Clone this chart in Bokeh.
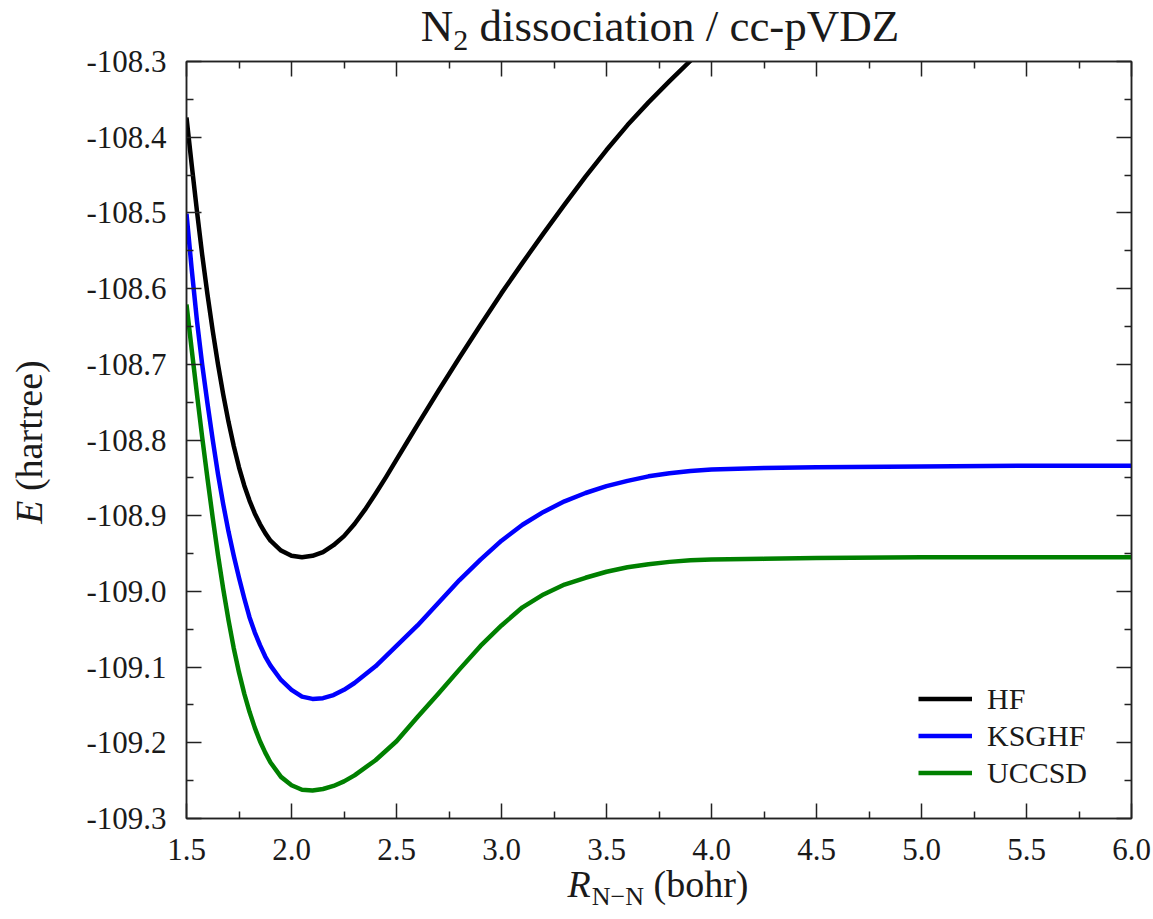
from bokeh.plotting import figure
from bokeh.models import Range1d, LinearAxis, FixedTicker, Legend, LegendItem, Div
from bokeh.layouts import column, row
from bokeh.embed import file_html
from bokeh.resources import INLINE

# ---------------- data ----------------
hf_r = [1.500, 1.525, 1.550, 1.575, 1.600, 1.625, 1.650, 1.675, 1.700, 1.725,
        1.750, 1.775, 1.800, 1.825, 1.850, 1.875, 1.900, 1.950, 2.000, 2.050,
        2.100, 2.150, 2.200, 2.250, 2.300, 2.350, 2.400, 2.450, 2.500, 2.550,
        2.600, 2.700, 2.800, 2.900, 3.000, 3.100, 3.200, 3.300, 3.400, 3.500,
        3.600, 3.700, 3.800, 3.900, 4.000]
hf_e = [-108.374, -108.437, -108.498, -108.556, -108.608, -108.656, -108.700,
        -108.740, -108.776, -108.808, -108.836, -108.860, -108.880, -108.897,
        -108.911, -108.923, -108.933, -108.946, -108.953, -108.955, -108.953,
        -108.948, -108.939, -108.927, -108.911, -108.892, -108.871, -108.849,
        -108.826, -108.803, -108.780, -108.735, -108.691, -108.648, -108.606,
        -108.566, -108.527, -108.489, -108.452, -108.417, -108.384, -108.354,
        -108.326, -108.299, -108.273]

ks_r = [1.500, 1.525, 1.550, 1.575, 1.600, 1.625, 1.650, 1.675, 1.700, 1.725,
        1.750, 1.775, 1.800, 1.825, 1.850, 1.875, 1.900, 1.950, 2.000, 2.050,
        2.100, 2.150, 2.200, 2.250, 2.300, 2.400, 2.500, 2.600, 2.700, 2.800,
        2.900, 3.000, 3.100, 3.200, 3.300, 3.400, 3.500, 3.600, 3.700, 3.800,
        3.900, 4.000, 4.250, 4.500, 5.000, 5.500, 6.000]
ks_e = [-108.501, -108.575, -108.643, -108.701, -108.752, -108.800, -108.845,
        -108.885, -108.921, -108.953, -108.982, -109.009, -109.034, -109.054,
        -109.071, -109.086, -109.098, -109.117, -109.130, -109.139, -109.142,
        -109.141, -109.137, -109.130, -109.121, -109.099, -109.072, -109.045,
        -109.015, -108.985, -108.958, -108.933, -108.912, -108.895, -108.881,
        -108.870, -108.861, -108.854, -108.848, -108.844, -108.841, -108.839,
        -108.837, -108.836, -108.835, -108.834, -108.834]

cc_r = [1.500, 1.525, 1.550, 1.575, 1.600, 1.625, 1.650, 1.675, 1.700, 1.725,
        1.750, 1.775, 1.800, 1.825, 1.850, 1.875, 1.900, 1.950, 2.000, 2.050,
        2.100, 2.150, 2.200, 2.250, 2.300, 2.400, 2.500, 2.600, 2.700, 2.800,
        2.900, 3.000, 3.100, 3.200, 3.300, 3.400, 3.500, 3.600, 3.700, 3.800,
        3.900, 4.000, 4.250, 4.500, 5.000, 5.500, 6.000]
cc_e = [-108.621, -108.681, -108.740, -108.797, -108.851, -108.903, -108.952,
        -108.997, -109.038, -109.075, -109.107, -109.135, -109.159, -109.180,
        -109.198, -109.213, -109.226, -109.245, -109.256, -109.262, -109.263,
        -109.261, -109.257, -109.251, -109.243, -109.223, -109.198, -109.166,
        -109.135, -109.103, -109.072, -109.045, -109.021, -109.004, -108.991,
        -108.982, -108.974, -108.968, -108.964, -108.961, -108.959, -108.958,
        -108.957, -108.956, -108.955, -108.955, -108.955]

series_names = ["HF", "KSGHF", "UCCSD"]
series_colors = ["#000000", "#0000ff", "#008000"]

x_major = [1.5, 2.0, 2.5, 3.0, 3.5, 4.0, 4.5, 5.0, 5.5, 6.0]
x_minor = [1.75, 2.25, 2.75, 3.25, 3.75, 4.25, 4.75, 5.25, 5.75]
x_tick_labels = ["1.5", "2.0", "2.5", "3.0", "3.5", "4.0", "4.5", "5.0", "5.5", "6.0"]
y_major = [-108.3, -108.4, -108.5, -108.6, -108.7, -108.8, -108.9, -109.0,
           -109.1, -109.2, -109.3]
y_minor = [-108.35, -108.45, -108.55, -108.65, -108.75, -108.85, -108.95,
           -109.05, -109.15, -109.25]
y_tick_labels = ["-108.3", "-108.4", "-108.5", "-108.6", "-108.7", "-108.8",
                 "-108.9", "-109.0", "-109.1", "-109.2", "-109.3"]

title_html = "N<span style='font-size:30px;position:relative;top:9px'>2</span> dissociation / cc-pVDZ"
xlabel_html = "<i>R</i><span style='font-size:26px;position:relative;top:8px;margin-left:1px'>N\u2212N</span> (bohr)"
ylabel_html = "<i>E</i> (hartree)"

# ---------------- layout sizes ----------------
FONT = "Liberation Serif"
X0, X1, Y0, Y1 = 1.5, 6.0, -109.3, -108.3
T = 56            # title strip height
ROW_SHIFT = 15    # plot row overlaps the title strip (transparent border)
L = 60            # y-label strip width
FW, FH = 945, 757
BL, BT, BR, BB = 126, 20, 20, 58
PW = BL + FW + BR
PH = BT + FH + BB
XL_H = 56
XL_SHIFT = 16
ROW_TOP = T - ROW_SHIFT

p = figure(width=PW, height=PH,
           x_range=Range1d(X0, X1), y_range=Range1d(Y0, Y1),
           output_backend="svg", toolbar_location=None,
           min_border_left=BL, min_border_right=BR,
           min_border_top=BT, min_border_bottom=BB,
           background_fill_color="white", border_fill_color=None,
           margin=(0, 0, 0, 0))
p.xgrid.visible = False
p.ygrid.visible = False
p.outline_line_color = "#222222"
p.outline_line_width = 1.5

def style_axis(ax, ticks, minor, labels, show_labels):
    ax.ticker = FixedTicker(ticks=ticks, minor_ticks=minor)
    ax.major_tick_in = 15
    ax.major_tick_out = 0
    ax.minor_tick_in = 7
    ax.minor_tick_out = 0
    ax.major_tick_line_color = "#222222"
    ax.minor_tick_line_color = "#222222"
    ax.major_tick_line_width = 1.5
    ax.minor_tick_line_width = 1.5
    ax.axis_line_color = "#222222"
    ax.axis_line_width = 1.5
    ax.major_label_text_font = FONT
    if show_labels:
        ax.major_label_overrides = {t: s for t, s in zip(ticks, labels)}
        ax.major_label_text_font_size = "31px"
        ax.major_label_text_color = "#1a1a1a"
    else:
        ax.major_label_overrides = {t: "" for t in ticks}
        ax.major_label_text_font_size = "1px"
        ax.major_label_standoff = 0

style_axis(p.xaxis[0], x_major, x_minor, x_tick_labels, True)
style_axis(p.yaxis[0], y_major, y_minor, y_tick_labels, True)
p.xaxis[0].major_label_standoff = 20
p.yaxis[0].major_label_standoff = 20

top_ax = LinearAxis()
right_ax = LinearAxis()
style_axis(top_ax, x_major, x_minor, x_tick_labels, False)
style_axis(right_ax, y_major, y_minor, y_tick_labels, False)
p.add_layout(top_ax, "above")
p.add_layout(right_ax, "right")

# ---------------- curves ----------------
renderers = []
for (xs, ys), color in zip([(hf_r, hf_e), (ks_r, ks_e), (cc_r, cc_e)], series_colors):
    r = p.line(xs, ys, line_color=color, line_width=4.5, line_join="round")
    renderers.append(r)

legend = Legend(items=[LegendItem(label=n, renderers=[r]) for n, r in zip(series_names, renderers)],
                location=(732, 27), padding=0, margin=0, spacing=0,
                border_line_color=None, background_fill_alpha=0,
                label_text_font=FONT, label_text_font_size="30px",
                label_text_color="#1a1a1a",
                glyph_width=54, glyph_height=37, label_height=37,
                label_standoff=15)
p.add_layout(legend)

# ---------------- title / axis labels as HTML text ----------------
base = f"font-family:'{FONT}';color:#1a1a1a;white-space:nowrap;"

title_div = Div(width=L + PW, height=T, margin=(0, 0, 0, 0), text=(
    f"<div style=\"position:relative;width:{L + PW}px;height:{T}px;{base}\">"
    f"<div style=\"position:absolute;left:360px;top:4px;width:600px;text-align:center;"
    f"font-size:45px;line-height:45px;\">{title_html}</div></div>"))

ycx, ycy = 29, 442 - ROW_TOP
ylabel_div = Div(width=L, height=PH, margin=(0, 0, 0, 0), text=(
    f"<div style=\"position:relative;width:{L}px;height:{PH}px;{base}\">"
    f"<div style=\"position:absolute;left:{ycx - 150}px;top:{ycy - 21}px;width:300px;height:42px;"
    f"text-align:center;font-size:38px;line-height:42px;transform:rotate(-90deg);"
    f"transform-origin:50% 50%;\">{ylabel_html}</div></div>"))

xlabel_div = Div(width=L + PW, height=XL_H, margin=(-XL_SHIFT, 0, 0, 0), text=(
    f"<div style=\"position:relative;width:{L + PW}px;height:{XL_H}px;{base}\">"
    f"<div style=\"position:absolute;left:458px;top:3px;width:400px;height:42px;text-align:center;"
    f"font-size:38px;line-height:42px;\">{xlabel_html}</div></div>"))

plot_row = row(ylabel_div, p, spacing=0, margin=(-ROW_SHIFT, 0, 0, 0))
layout = column(title_div, plot_row, xlabel_div, spacing=0)

open("out.html", "w").write(file_html(layout, INLINE))
